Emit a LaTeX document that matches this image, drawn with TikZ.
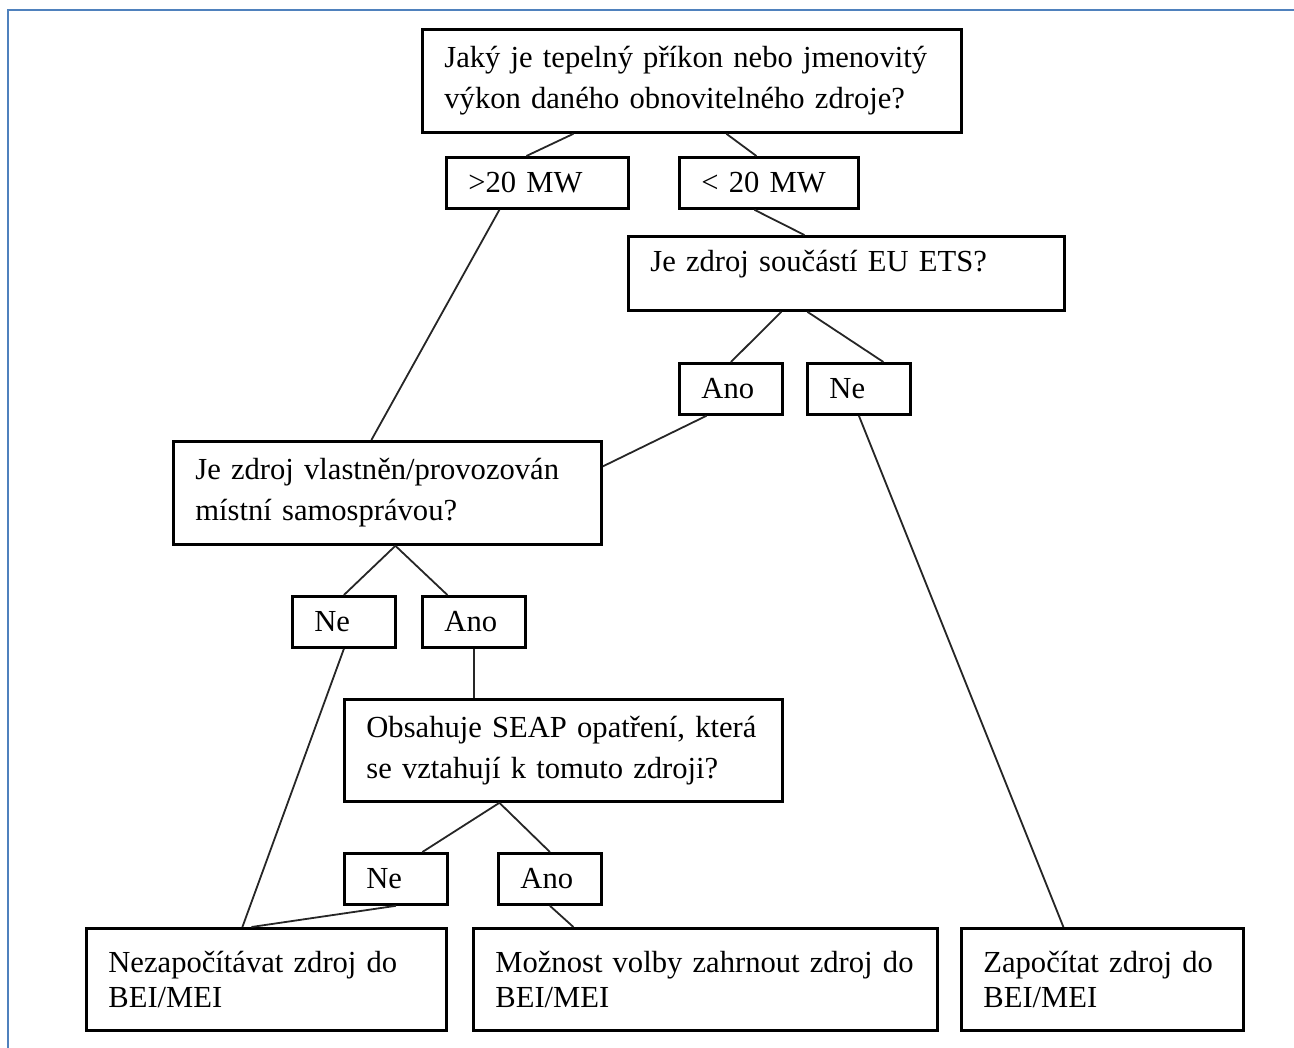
\documentclass[tikz,border=0pt]{standalone}
\usepackage{fontspec}
\setmainfont{Liberation Serif}
\definecolor{ramec}{RGB}{79,129,189}
\begin{document}
\begin{tikzpicture}[x=0.5pt, y=-0.5pt,
    every node/.style={font=\fontsize{15.3pt}{20.5pt}\selectfont},
    box/.style={draw, line width=1.4pt, anchor=north west, align=left, inner xsep=11pt, inner ysep=0pt},
    vysl/.style={box, font=\fontsize{15.3pt}{17.5pt}\selectfont, text width=#1, minimum height=51pt},
    odp/.style={box, text width=#1, minimum height=25.5pt},
    spoj/.style={line width=0.9pt, black!85}]
    \useasboundingbox (0,0) rectangle (1294,1048);

    % Rámeček
    \draw[ramec, line width=1pt] (8,1048) -- (8,10) -- (1294,10);

    % Otázky
    \node[box, text width=247.5pt, minimum height=51.5pt] (prikon) at (421,28) {\mbox{Jaký je tepelný příkon nebo jmenovitý}\\\mbox{výkon daného obnovitelného zdroje?}};
    \node[box, text width=196pt, minimum height=37pt, text depth=12.5pt] (ets) at (627,235) {Je zdroj součástí EU ETS?};
    \node[box, text width=192pt, minimum height=51.5pt] (vlast) at (172,440) {\mbox{Je zdroj vlastněn/provozován}\\místní samosprávou?};
    \node[box, text width=197pt, minimum height=51pt] (seap) at (343,698) {\mbox{Obsahuje SEAP opatření, která}\\\mbox{se vztahují k tomuto zdroji?}};

    % Odpovědi
    \node[odp=69pt] (vic) at (445,156) {>20 MW};
    \node[odp=67.5pt] (min) at (678,156) {< 20 MW};
    \node[odp=29.5pt] (ano1) at (678,362) {Ano};
    \node[odp=29.5pt] (ne1) at (806,362) {Ne};
    \node[odp=29.5pt] (ne2) at (291,595) {Ne};
    \node[odp=29.5pt] (ano2) at (421,595) {Ano};
    \node[odp=29.5pt] (ne3) at (343,852) {Ne};
    \node[odp=29.5pt] (ano3) at (497,852) {Ano};

    % Výsledky
    \node[vysl=158pt] (nezap) at (85,927) {\mbox{Nezapočítávat zdroj do}\\BEI/MEI};
    \node[vysl=210pt] (volba) at (472,927) {\mbox{Možnost volby zahrnout zdroj do}\\BEI/MEI};
    \node[vysl=119pt] (zap) at (960,927) {\mbox{Započítat zdroj do}\\BEI/MEI};

    % Spojnice
    \draw[spoj] ([xshift=-59.25pt]prikon.south) -- ([xshift=-5.5pt]vic.north);
    \draw[spoj] ([xshift=17.25pt]prikon.south) -- ([xshift=-6.25pt]min.north);
    \draw[spoj] ([xshift=-19pt]vic.south) -- ([xshift=-8pt]vlast.north);
    \draw[spoj] ([xshift=-7.25pt]min.south) -- ([xshift=-21pt]ets.north);
    \draw[spoj] ([xshift=-32.5pt]ets.south) -- (ano1.north);
    \draw[spoj] ([xshift=-19.5pt]ets.south) -- ([xshift=12.25pt]ne1.north);
    \draw[spoj] ([xshift=-12.25pt]ano1.south) -- ([yshift=13.25pt]vlast.east);
    \draw[spoj] (ne1.south) -- ([xshift=-19.5pt]zap.north);
    \draw[spoj] ([xshift=4pt]vlast.south) -- (ne2.north);
    \draw[spoj] ([xshift=4pt]vlast.south) -- ([xshift=-13.25pt]ano2.north);
    \draw[spoj] (ne2.south) -- ([xshift=-12pt]nezap.north);
    \draw[spoj] (ano2.south) -- (ano2.south |- seap.north);
    \draw[spoj] ([xshift=-32pt]seap.south) -- ([xshift=13.25pt]ne3.north);
    \draw[spoj] ([xshift=-32pt]seap.south) -- (ano3.north);
    \draw[spoj] (ne3.south) -- ([xshift=-7.5pt]nezap.north);
    \draw[spoj] (ano3.south) -- ([xshift=-66pt]volba.north);
\end{tikzpicture}
\end{document}
